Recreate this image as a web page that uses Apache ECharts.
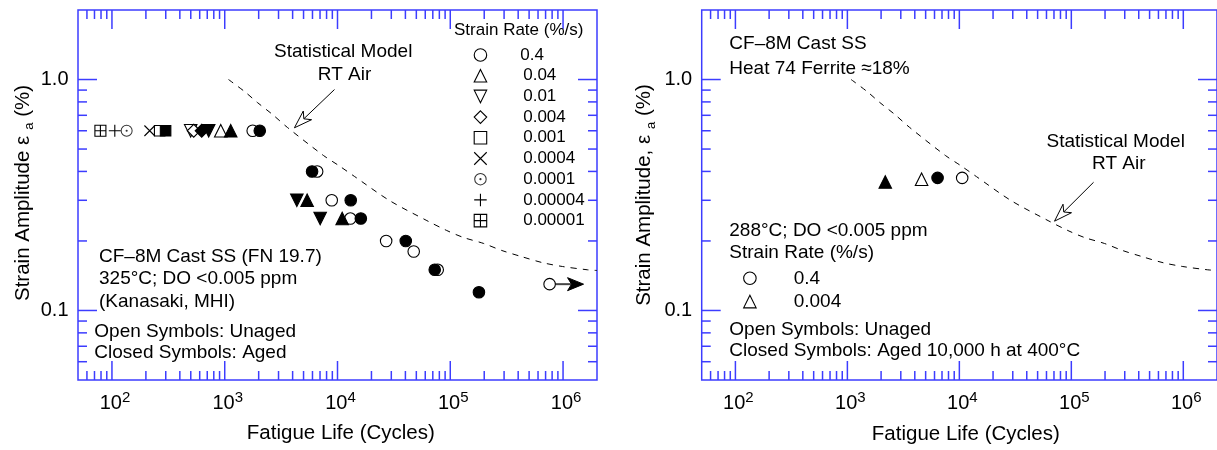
<!DOCTYPE html>
<html>
<head>
<meta charset="utf-8">
<script src="https://cdn.jsdelivr.net/npm/echarts@6/dist/echarts.min.js"></script>
<style>html,body{margin:0;padding:0;background:#fff;}#c{width:1217px;height:450px;}</style>
</head>
<body>
<div id="c"></div>
<script>
// ---------------- data ----------------
const xTickExponents = [2, 3, 4, 5, 6];
const yTickLabels = ['0.1', '1.0'];
const yMajorTicks = [0.1, 1];
const minorMultipliers = [2, 3, 4, 5, 6, 7, 8, 9];
const strainRates = ['0.4', '0.04', '0.01', '0.004', '0.001', '0.0004', '0.0001', '0.00004', '0.00001'];

// Left panel (325°C, Kanasaki MHI): [fatigue life (cycles), strain amplitude (%)]
const unaged_0_4 = [[1770, 0.6], [6600, 0.4], [8890, 0.3], [13000, 0.25], [27000, 0.2], [47400, 0.18], [77400, 0.15], [760000, 0.13]];
const unaged_0_04 = [[922, 0.6]];
const unaged_0_01 = [[499, 0.6]];
const unaged_0_004 = [[531, 0.6]];
const unaged_0_001 = [[265, 0.6]];
const unaged_0_0004 = [[216, 0.6]];
const unaged_0_0001 = [[135, 0.6]];
const unaged_0_00004 = [[106, 0.6]];
const unaged_0_00001 = [[79, 0.6]];
const aged_0_4 = [[2045, 0.6], [5950, 0.4], [13100, 0.3], [16100, 0.25], [40300, 0.2], [72800, 0.15], [179500, 0.12]];
const aged_0_04 = [[1130, 0.6], [5380, 0.3], [11000, 0.25]];
const aged_0_01 = [[721, 0.6], [4360, 0.3], [7020, 0.25]];
const aged_0_004 = [[625, 0.6]];
const aged_0_001 = [[299, 0.6]];
const runoutArrow = [[760000, 0.13, 1520000, 0.13]];

// Right panel (288°C, Heat 74)
const r_unaged_0_4 = [[10600, 0.375]];
const r_unaged_0_004 = [[4600, 0.37]];
const r_aged_0_4 = [[6390, 0.375]];
const r_aged_0_004 = [[2180, 0.36]];

// Statistical model, RT air
const modelLife = [1080, 1500, 1950, 2650, 3600, 7500, 10200, 14200, 29000, 62000, 93000, 131000, 198000, 285000, 430000, 660000, 990000, 1650000, 2000000];
const modelAmp = [1.0, 0.887, 0.795, 0.706, 0.62, 0.469, 0.425, 0.38, 0.299, 0.245, 0.222, 0.207, 0.195, 0.182, 0.171, 0.161, 0.155, 0.150, 0.149];
const modelArrowLeft = [[9400, 0.905, 4150, 0.618]];
const modelArrowRight = [[158000, 0.359, 70800, 0.2436]];

// ---------------- styling ----------------
const FONT = 'Liberation Sans, Arial, Helvetica, sans-serif';
const AXIS_COLOR = '#3c3cff';
const X_MIN = 50, X_MAX = 2000000, Y_MIN = 0.05, Y_MAX = 2;
const MAJOR_LEN = 19, MINOR_LEN = 9;

const modelData = modelLife.map((v, i) => [v, modelAmp[i]]);

function inside(v, lo, hi) { return v > lo * 1.0001 && v < hi * 0.9999; }
const xMinorTicks = [], yMinorTicks = [];
[1, 2, 3, 4, 5, 6].forEach(d => minorMultipliers.forEach(m => { const v = m * Math.pow(10, d); if (inside(v, X_MIN, X_MAX)) xMinorTicks.push(v); }));
[-2, -1, 0].forEach(d => minorMultipliers.forEach(m => { const v = +(m * Math.pow(10, d)).toPrecision(6); if (inside(v, Y_MIN, Y_MAX)) yMinorTicks.push(v); }));
const xMajorTicks = xTickExponents.map(e => Math.pow(10, e));

function tickSeries(gi) {
  const data = [];
  xMajorTicks.forEach(v => data.push([v, 1, 0, 1]));
  xMinorTicks.forEach(v => data.push([v, 1, 0, 0]));
  yMajorTicks.forEach(v => data.push([100, v, 1, 1]));
  yMinorTicks.forEach(v => data.push([100, v, 1, 0]));
  return {
    type: 'custom', xAxisIndex: gi, yAxisIndex: gi, silent: true, z: 20, clip: false,
    dimensions: ['x', 'y', 'kind', 'major'], encode: { x: 0, y: 1 }, data,
    renderItem(params, api) {
      const cs = params.coordSys;
      const len = api.value(3) ? MAJOR_LEN : MINOR_LEN;
      const st = { stroke: AXIS_COLOR, lineWidth: 1.5 };
      if (api.value(2) === 0) {
        const px = api.coord([api.value(0), 1])[0];
        const yb = cs.y + cs.height, yt = cs.y;
        return { type: 'group', children: [
          { type: 'line', shape: { x1: px, y1: yb, x2: px, y2: yb - len }, style: st },
          { type: 'line', shape: { x1: px, y1: yt, x2: px, y2: yt + len }, style: st }
        ] };
      } else {
        const py = api.coord([100, api.value(1)])[1];
        const xl = cs.x, xr = cs.x + cs.width;
        return { type: 'group', children: [
          { type: 'line', shape: { x1: xl, y1: py, x2: xl + len, y2: py }, style: st },
          { type: 'line', shape: { x1: xr, y1: py, x2: xr - len, y2: py }, style: st }
        ] };
      }
    }
  };
}

// hl: head length, hw: head half width, nd: distance from tip to the notch on the shaft
function arrowSeries(gi, data, o) {
  return {
    type: 'custom', xAxisIndex: gi, yAxisIndex: gi, silent: true, z: o.z, clip: false,
    dimensions: ['x1', 'y1', 'x2', 'y2'], encode: { x: [0, 2], y: [1, 3] }, data,
    renderItem(params, api) {
      const p1 = api.coord([api.value(0), api.value(1)]);
      const p2 = api.coord([api.value(2), api.value(3)]);
      const dx = p2[0] - p1[0], dy = p2[1] - p1[1], L = Math.hypot(dx, dy);
      const ux = dx / L, uy = dy / L, nx = -uy, ny = ux;
      const base = [p2[0] - ux * o.hl, p2[1] - uy * o.hl];
      const w1 = [base[0] + nx * o.hw, base[1] + ny * o.hw];
      const w2 = [base[0] - nx * o.hw, base[1] - ny * o.hw];
      const notch = [p2[0] - ux * o.nd, p2[1] - uy * o.nd];
      return { type: 'group', children: [
        { type: 'line', shape: { x1: p1[0], y1: p1[1], x2: notch[0], y2: notch[1] }, style: { stroke: o.lineColor, lineWidth: o.lw } },
        { type: 'polygon', shape: { points: [p2, w1, notch, w2] }, style: { fill: o.fill, stroke: '#000', lineWidth: 1 } }
      ] };
    }
  };
}

const RING = 'path://M10,5A5,5 0 1,0 0,5A5,5 0 1,0 10,5Z M9.15,5A4.15,4.15 0 1,1 0.85,5A4.15,4.15 0 1,1 9.15,5Z M5.9,5A0.9,0.9 0 1,0 4.1,5A0.9,0.9 0 1,0 5.9,5Z';
const CROSS = 'path://M0,0L10,10M10,0L0,10';
const PLUS = 'path://M0,5L10,5M5,0L5,10';
const BOXPLUS = 'path://M0,0L10,0L10,10L0,10Z M5,0L5,10 M0,5L10,5';
const DOWN_TRI = 'path://M0,0L10,0L5,10Z';

function sc(name, data, gi, symbol, size, fill, extra) {
  return Object.assign({
    type: 'scatter', name, data, xAxisIndex: gi, yAxisIndex: gi, silent: true,
    symbol, symbolSize: size, z: 5,
    itemStyle: { color: fill, borderColor: '#000', borderWidth: 1.1, opacity: 1 }
  }, extra || {});
}

const OPEN = '#fff', SOLID = '#000';
const S_CIRCLE = 11.5, S_TRI = 12.5, S_DIAM = 13, S_RECT = 10.5;
const series = [
  tickSeries(0), tickSeries(1),
  { type: 'line', data: modelData, xAxisIndex: 0, yAxisIndex: 0, symbol: 'none', smooth: 0.3, silent: true, z: 2,
    lineStyle: { color: '#000', width: 1, type: [6, 6] } },
  { type: 'line', data: modelData, xAxisIndex: 1, yAxisIndex: 1, symbol: 'none', smooth: 0.3, silent: true, z: 2,
    lineStyle: { color: '#000', width: 1, type: [6, 6] } },
  arrowSeries(0, modelArrowLeft, { z: 3, hl: 18, hw: 6, nd: 13, fill: '#fff', lineColor: '#000', lw: 1 }),
  arrowSeries(1, modelArrowRight, { z: 3, hl: 18, hw: 6, nd: 13, fill: '#fff', lineColor: '#000', lw: 1 }),
  arrowSeries(0, runoutArrow, { z: 3, hl: 16, hw: 6.5, nd: 12, fill: '#000', lineColor: '#444', lw: 2 }),
  // left panel, unaged (open)
  sc(strainRates[0], unaged_0_4, 0, 'circle', S_CIRCLE, OPEN),
  sc(strainRates[1], unaged_0_04, 0, 'triangle', S_TRI, OPEN),
  sc(strainRates[2], unaged_0_01, 0, DOWN_TRI, S_TRI, OPEN),
  sc(strainRates[3], unaged_0_004, 0, 'diamond', S_DIAM, OPEN),
  sc(strainRates[4], unaged_0_001, 0, 'rect', S_RECT, OPEN),
  sc(strainRates[5], unaged_0_0004, 0, CROSS, 10.5, 'none'),
  sc(strainRates[6], unaged_0_0001, 0, RING, 12, SOLID, { itemStyle: { color: SOLID, borderWidth: 0 } }),
  sc(strainRates[7], unaged_0_00004, 0, PLUS, 12, 'none'),
  sc(strainRates[8], unaged_0_00001, 0, BOXPLUS, 11, OPEN),
  // left panel, aged (closed)
  sc('aged 0.4', aged_0_4, 0, 'circle', S_CIRCLE, SOLID, { z: 6 }),
  sc('aged 0.04', aged_0_04, 0, 'triangle', S_TRI, SOLID, { z: 6 }),
  sc('aged 0.01', aged_0_01, 0, DOWN_TRI, S_TRI, SOLID, { z: 6 }),
  sc('aged 0.004', aged_0_004, 0, 'diamond', S_DIAM, SOLID, { z: 6 }),
  sc('aged 0.001', aged_0_001, 0, 'rect', S_RECT, SOLID, { z: 6 }),
  // right panel
  sc('R 0.4', r_unaged_0_4, 1, 'circle', S_CIRCLE, OPEN),
  sc('R 0.004', r_unaged_0_004, 1, 'triangle', S_TRI, OPEN),
  sc('R aged 0.4', r_aged_0_4, 1, 'circle', S_CIRCLE, SOLID, { z: 6 }),
  sc('R aged 0.004', r_aged_0_004, 1, 'triangle', S_TRI, SOLID, { z: 6 })
];

function xLabel(v) {
  const l = Math.log10(v), e = Math.round(l);
  if (Math.abs(l - e) > 1e-6 || xTickExponents.indexOf(e) < 0) return '';
  return '{b|10}{s|' + e + '}';
}
function yLabel(v) {
  const l = Math.log10(v), e = Math.round(l);
  if (Math.abs(l - e) > 1e-6) return '';
  const i = yMajorTicks.findIndex(t => Math.abs(Math.log10(t) - l) < 1e-6);
  return i < 0 ? '' : yTickLabels[i];
}

function xAxis(gi) {
  return {
    type: 'log', gridIndex: gi, min: X_MIN, max: X_MAX, logBase: 10,
    axisLine: { show: false }, axisTick: { show: false }, splitLine: { show: false }, minorTick: { show: false },
    axisLabel: {
      formatter: xLabel, margin: 10, color: '#000', fontFamily: FONT, showMinLabel: false, showMaxLabel: false,
      rich: {
        b: { fontSize: 20, lineHeight: 26, fontFamily: FONT, color: '#000', padding: [0, 0, 0, 6] },
        s: { fontSize: 15, lineHeight: 12, verticalAlign: 'top', fontFamily: FONT, color: '#000' }
      }
    }
  };
}
function yAxis(gi) {
  return {
    type: 'log', gridIndex: gi, min: Y_MIN, max: Y_MAX, logBase: 10,
    axisLine: { show: false }, axisTick: { show: false }, splitLine: { show: false }, minorTick: { show: false },
    axisLabel: { formatter: yLabel, margin: 9.5, color: '#000', fontSize: 20, fontFamily: FONT, showMinLabel: false, showMaxLabel: false }
  };
}

function txt(x, y, text, size, align) {
  return { type: 'text', x, y, silent: true, z: 50,
    style: { text, fontSize: size, fontFamily: FONT, fill: '#000', align: align || 'left', verticalAlign: 'middle' } };
}
function yTitle(x, y, main) {
  return { type: 'text', x, y, rotation: Math.PI / 2, silent: true, z: 50,
    style: {
      text: '{m|' + main + '}{s|a}{m| (%)}', align: 'center', verticalAlign: 'middle', fill: '#000',
      rich: {
        m: { fontSize: 20.5, lineHeight: 26, fontFamily: FONT, fill: '#000' },
        s: { fontSize: 13, verticalAlign: 'bottom', padding: [0, 0, 0, 6], fontFamily: FONT, fill: '#000' }
      }
    } };
}

const graphic = [
  // left panel
  txt(343.2, 51.7, 'Statistical Model', 19, 'center'),
  txt(344.5, 75, 'RT Air', 19, 'center'),
  txt(454, 30.7, 'Strain Rate (%/s)', 17),
  txt(99, 256.7, 'CF\u20138M Cast SS (FN 19.7)', 19),
  txt(99, 278.8, '325\u00B0C; DO <0.005 ppm', 19),
  txt(99, 301.7, '(Kanasaki, MHI)', 19),
  txt(94.3, 331.7, 'Open Symbols: Unaged', 19),
  txt(94.3, 352.7, 'Closed Symbols: Aged', 19),
  txt(340.8, 433, 'Fatigue Life (Cycles)', 20.5, 'center'),
  yTitle(23, 193, 'Strain Amplitude \u03B5'),
  // right panel
  txt(729.3, 43.3, 'CF\u20138M Cast SS', 19),
  txt(729.3, 68.3, 'Heat 74 Ferrite \u224818%', 19),
  txt(729.3, 231, '288\u00B0C; DO <0.005 ppm', 19),
  txt(729.3, 252.3, 'Strain Rate (%/s)', 19),
  txt(729.3, 329.3, 'Open Symbols: Unaged', 19),
  txt(729.3, 351, 'Closed Symbols: Aged 10,000 h at 400\u00B0C', 19),
  txt(1115.7, 141.7, 'Statistical Model', 19, 'center'),
  txt(1118.8, 163.3, 'RT Air', 19, 'center'),
  txt(965.8, 434, 'Fatigue Life (Cycles)', 20.5, 'center'),
  yTitle(644.5, 195, 'Strain Amplitude, \u03B5')
];

const chart = echarts.init(document.getElementById('c'), null, { renderer: 'canvas' });
chart.setOption({
  animation: false,
  backgroundColor: '#fff',
  grid: [
    { left: 78, top: 10, width: 519, height: 370, show: true, borderColor: AXIS_COLOR, borderWidth: 1.5, backgroundColor: 'transparent' },
    { left: 701.7, top: 10, width: 517.7, height: 370, show: true, borderColor: AXIS_COLOR, borderWidth: 1.5, backgroundColor: 'transparent' }
  ],
  xAxis: [xAxis(0), xAxis(1)],
  yAxis: [yAxis(0), yAxis(1)],
  legend: [
    {
      orient: 'vertical', left: 471.7, top: 44.65, padding: 0, itemGap: 0, itemWidth: 12.5, itemHeight: 12.5,
      selectedMode: false,
      itemStyle: { borderWidth: 1.1 },
      formatter: n => (n === '0.4' ? '{w|' : '{v|') + n + '}',
      textStyle: { fontSize: 17, lineHeight: 20.7, color: '#000', fontFamily: FONT,
        rich: {
          v: { fontSize: 17, lineHeight: 20.7, color: '#000', fontFamily: FONT, padding: [0, 0, 0, 31.5] },
          w: { fontSize: 17, lineHeight: 20.7, color: '#000', fontFamily: FONT, padding: [0, 0, 0, 28.5] }
        } },
      data: strainRates.map(n => n === '0.0001' ? { name: n, itemStyle: { borderWidth: 0 } } : { name: n })
    },
    {
      orient: 'vertical', left: 743.1, top: 266.65, padding: 0, itemGap: 0, itemWidth: 12.5, itemHeight: 12.5,
      selectedMode: false,
      itemStyle: { borderWidth: 1.1 },
      formatter: n => '{v|' + n.slice(2) + '}',
      textStyle: { fontSize: 19, lineHeight: 23.3, color: '#000', fontFamily: FONT,
        rich: { v: { fontSize: 19, lineHeight: 23.3, color: '#000', fontFamily: FONT, padding: [0, 0, 0, 32.5] } } },
      data: ['R 0.4', 'R 0.004']
    }
  ],
  graphic,
  series
});
</script>
</body>
</html>
